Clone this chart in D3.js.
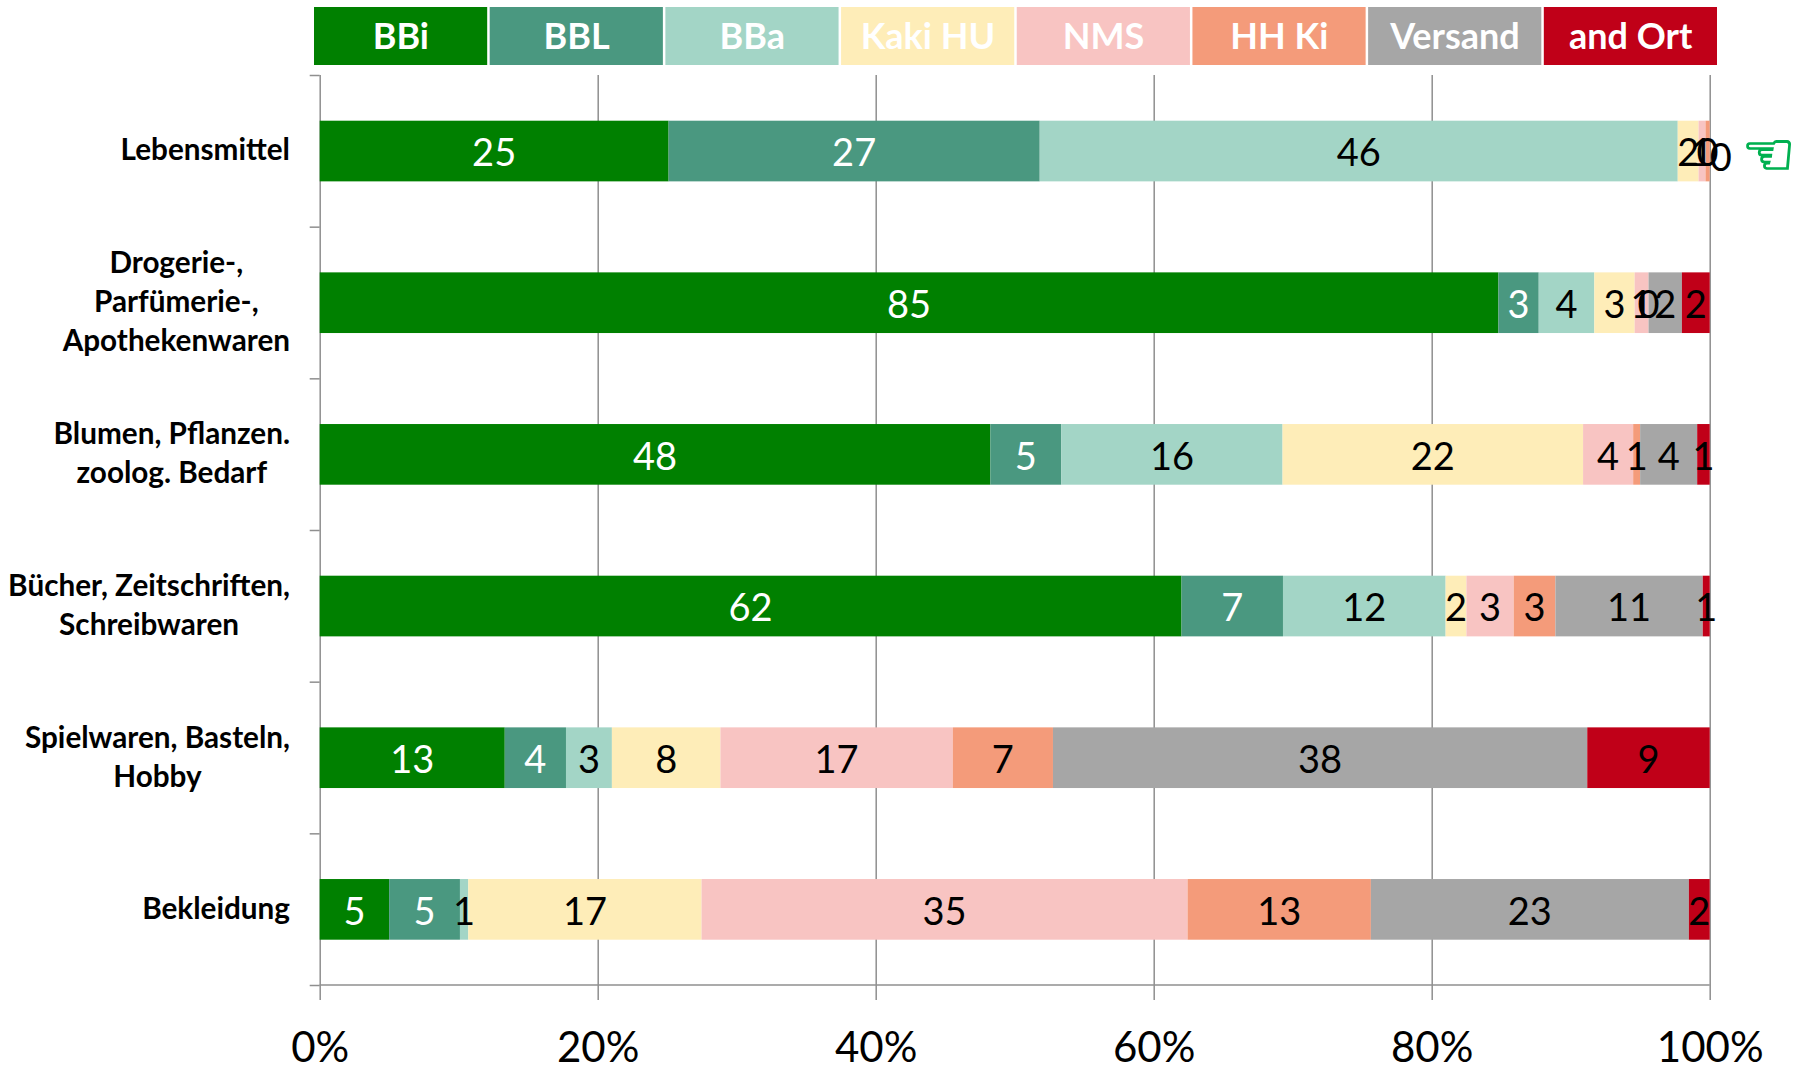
<!DOCTYPE html>
<html><head><meta charset="utf-8">
<script src="https://cdnjs.cloudflare.com/ajax/libs/d3/7.8.5/d3.min.js"></script>
<style>html,body{margin:0;padding:0;background:#fff}svg{display:block}text{font-family:Lato,"Open Sans",sans-serif}</style>
</head><body><svg id="c" width="1796" height="1069"></svg>
<script>
const categories = [
  ["Lebensmittel"],
  ["Drogerie-,","Parfümerie-,","Apothekenwaren"],
  ["Blumen, Pflanzen.","zoolog. Bedarf"],
  ["Bücher, Zeitschriften,","Schreibwaren"],
  ["Spielwaren, Basteln,","Hobby"],
  ["Bekleidung"]
];
const seriesNames = ["BBi","BBL","BBa","Kaki HU","NMS","HH Ki","Versand","and Ort"];
const colors = ["#008000","#4A9880","#A3D5C6","#FEEDB8","#F8C4C2","#F49B7A","#A6A6A6","#C00018"];
const labelColors = ["#fff","#fff","#000","#000","#000","#000","#000","#000"];
const BBi    = [25.1,84.8,48.2,62.0,13.3, 5.0];
const BBL    = [26.7, 2.9, 5.1, 7.3, 4.4, 5.1];
const BBa    = [45.9, 4.0,15.9,11.7, 3.3, 0.6];
const KakiHU = [ 1.5, 2.9,21.6, 1.5, 7.8,16.8];
const NMS    = [ 0.5, 1.0, 3.6, 3.4,16.7,35.0];
const HHKi   = [ 0.3, 0.0, 0.5, 3.0, 7.2,13.2];
const Versand= [ 0.0, 2.4, 4.1,10.6,38.4,22.9];
const andOrt = [ 0.0, 2.0, 0.9, 0.5, 8.8, 1.5];
const allSeries = [BBi,BBL,BBa,KakiHU,NMS,HHKi,Versand,andOrt];
const xTicks = [0,0.2,0.4,0.6,0.8,1];

const svg = d3.select("#c");
const rows = categories.map((c,i)=>{const o={i};seriesNames.forEach((s,j)=>o[s]=allSeries[j][i]);return o;});
const stacked = d3.stack().keys(seriesNames).offset(d3.stackOffsetExpand)(rows);

const x = d3.scaleLinear().domain([0,1]).range([319.7,1709.7]);
const y = d3.scaleBand().domain(d3.range(6)).range([75.2,985.2]).paddingInner(0.6).paddingOuter(0.3);
const yEdges = d3.scaleLinear().domain([0,6]).range([75,985]);
const legendX = d3.scaleBand().domain(seriesNames).range([314,1719.5]);
const AX = "#8f8f8f";

const xAxis = svg.append("g").attr("transform","translate(0,985)")
  .call(d3.axisBottom(x).tickValues(xTicks).tickFormat(d3.format(".0%")).tickSize(15).tickSizeOuter(0));
xAxis.select(".domain").remove();
xAxis.selectAll(".tick line").attr("y1",-910).attr("y2",15).attr("stroke",AX).attr("stroke-width",1.5);
xAxis.selectAll(".tick text").attr("y",45).attr("dy","0.75em").attr("font-size",42).attr("fill","#000");

const yAxis = svg.append("g").attr("transform","translate(319.7,0)")
  .call(d3.axisLeft(yEdges).ticks(6).tickFormat("").tickSize(10).tickSizeOuter(0));
yAxis.select(".domain").remove();
yAxis.selectAll(".tick line").attr("stroke",AX).attr("stroke-width",1.5);
svg.append("line").attr("x1",x(0)).attr("x2",x(1)).attr("y1",985).attr("y2",985).attr("stroke",AX).attr("stroke-width",1.5);

const layer = svg.append("g").selectAll("g").data(stacked).join("g").attr("fill",(d,i)=>colors[i]);
layer.selectAll("rect").data(d=>d).join("rect")
  .attr("x",d=>x(d[0])).attr("width",d=>Math.max(0,x(d[1])-x(d[0])))
  .attr("y",d=>y(d.data.i)).attr("height",y.bandwidth());

const lab = svg.append("g").attr("font-size",38).attr("text-anchor","middle");
stacked.forEach((s,j)=>{
  s.forEach((d,i)=>{
    const v = allSeries[j][i];
    if (i===0 && j>=6) return;
    if (v===0 && i!==1) return;
    lab.append("text").attr("x",x((d[0]+d[1])/2)).attr("y",y(i)+y.bandwidth()/2+2)
      .attr("dy","0.35em").attr("fill",labelColors[j]).text(Math.round(v+1e-9));
  });
});
lab.append("text").attr("x",x(1)+11).attr("y",y(0)+y.bandwidth()/2+7).attr("dy","0.35em").attr("fill","#000").text(0);
svg.append("text").attr("x",x(1)+32).attr("y",y(0)+y.bandwidth()/2+24)
  .style("font-family","'DejaVu Sans'").attr("font-size",60).attr("fill","#00B050")
  .attr("stroke","#00B050").attr("stroke-width",1.6).text("\u261C");

const catG = svg.append("g").attr("font-size",29.7).attr("font-weight",700).attr("fill","#000");
categories.forEach((lines,i)=>{
  const g = catG.append("g");
  const cy = y(i)+y.bandwidth()/2 - 1;
  const t = lines.map((l,k)=>g.append("text").attr("y",cy+(k-(lines.length-1)/2)*39).attr("dy","0.35em").attr("text-anchor","middle").text(l));
  const w = d3.max(t,n=>n.node().getComputedTextLength());
  t.forEach(n=>n.attr("x",290-w/2));
});

const lg = svg.append("g").selectAll("g").data(seriesNames).join("g").attr("transform",d=>`translate(${legendX(d)},7)`);
lg.append("rect").attr("x",0).attr("width",legendX.bandwidth()-2.5).attr("height",58).attr("fill",(d,i)=>colors[i]);
lg.append("text").attr("x",legendX.bandwidth()/2-1).attr("y",29).attr("dy","0.35em").attr("text-anchor","middle")
  .attr("font-size",36).attr("font-weight",700).attr("fill","#fff").text(d=>d);
</script></body></html>
